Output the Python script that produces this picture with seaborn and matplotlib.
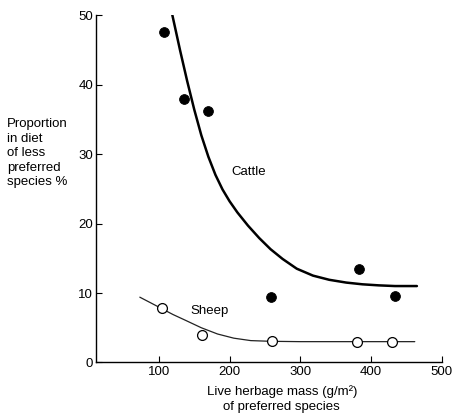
import numpy as np
import pandas as pd
import seaborn as sns
import matplotlib
matplotlib.use("Agg")
import matplotlib.pyplot as plt

cattle_x = [107, 136, 170, 259, 383, 434]
cattle_y = [47.6, 37.9, 36.2, 9.4, 13.5, 9.6]
sheep_x = [105, 161, 260, 380, 430]
sheep_y = [7.9, 4.0, 3.1, 2.9, 3.0]

# fitted curves
cattle_curve_x = [119, 130, 140, 150, 160, 170, 180, 190, 200, 211, 226, 242, 258, 275, 295, 318, 341, 365, 388, 411, 434, 465]
cattle_curve_y = [50.0, 44.9, 40.5, 36.4, 32.7, 29.6, 27.0, 24.9, 23.2, 21.6, 19.7, 17.9, 16.3, 14.9, 13.5, 12.5, 11.9, 11.5, 11.25, 11.1, 11.0, 11.0]
sheep_curve_x = [73, 90, 105, 120, 137, 160, 183, 206, 230, 258, 300, 350, 400, 462]
sheep_curve_y = [9.4, 8.5, 7.7, 6.9, 6.1, 5.0, 4.1, 3.5, 3.15, 3.05, 3.0, 3.0, 3.0, 3.0]

cattle_df = pd.DataFrame({"x": cattle_x, "y": cattle_y})
sheep_df = pd.DataFrame({"x": sheep_x, "y": sheep_y})
cattle_fit = pd.DataFrame({"x": cattle_curve_x, "y": cattle_curve_y})
sheep_fit = pd.DataFrame({"x": sheep_curve_x, "y": sheep_curve_y})

sns.set_style("ticks")
plt.rcParams["font.family"] = ["Liberation Sans", "DejaVu Sans"]
plt.rcParams["text.color"] = "black"

fs = 9.5

fig = plt.figure(figsize=(4.56, 4.17), dpi=100)
ax = fig.add_axes([0.2105, 0.1307, 0.758, 0.8333])

sns.lineplot(data=cattle_fit, x="x", y="y", sort=False, color="black", linewidth=1.8, ax=ax)
sns.lineplot(data=sheep_fit, x="x", y="y", sort=False, color="#222222", linewidth=0.9, ax=ax)
sns.scatterplot(data=cattle_df, x="x", y="y", color="black", s=50, edgecolor="black", ax=ax, zorder=3)
sns.scatterplot(data=sheep_df, x="x", y="y", color="white", s=50, edgecolor="black", linewidth=0.9, ax=ax, zorder=3)

ax.text(227, 27.4, "Cattle", fontsize=fs, ha="center", va="center")
ax.text(172, 7.4, "Sheep", fontsize=fs, ha="center", va="center")

ax.set_xlim(11, 500)
ax.set_ylim(0, 50)
ax.set_xticks([100, 200, 300, 400, 500])
ax.set_yticks([0, 10, 20, 30, 40, 50])
ax.tick_params(direction="in", length=4, width=0.8, labelsize=fs, colors="black")
ax.tick_params(axis="y", pad=2)
ax.tick_params(axis="x", pad=2.5)
ax.spines["top"].set_visible(False)
ax.spines["right"].set_visible(False)
for s in ["left", "bottom"]:
    ax.spines[s].set_linewidth(1.0)
    ax.spines[s].set_color("black")

ax.set_xlabel("")
ax.set_ylabel("")
fig.text(0.618, 0.062, "Live herbage mass (g/m²)", fontsize=fs, ha="center", va="center")
fig.text(0.618, 0.024, "of preferred species", fontsize=fs, ha="center", va="center")
fig.text(0.015, 0.632, "Proportion\nin diet\nof less\npreferred\nspecies %", fontsize=fs,
         ha="left", va="center", linespacing=1.28)

fig.savefig("out.png", dpi=100)
